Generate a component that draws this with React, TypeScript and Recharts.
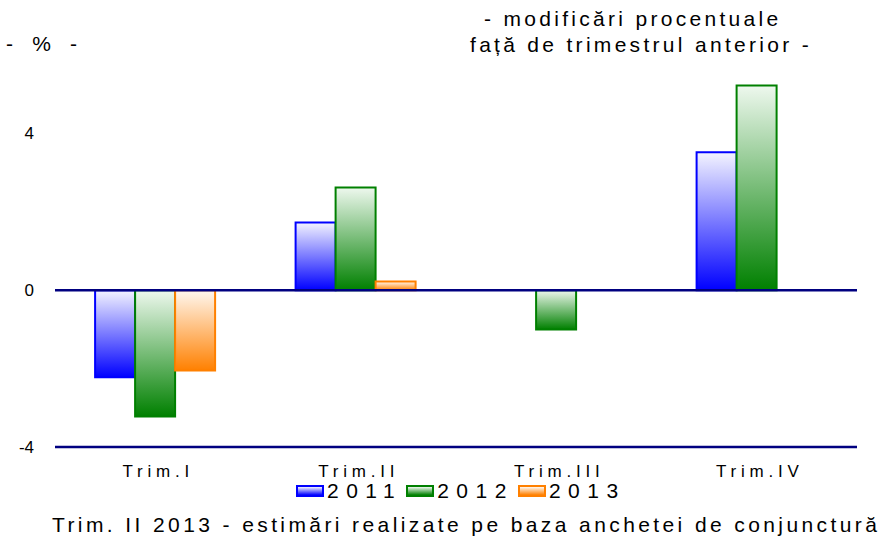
import React from "react";
import { BarChart, Bar, XAxis, YAxis, ReferenceLine } from "recharts";

const categories = ["Trim.I", "Trim.II", "Trim.III", "Trim.IV"];
const series2011 = [-2.22, 1.73, null, 3.52];
const series2012 = [-3.22, 2.62, -1.0, 5.22];
const series2013 = [-2.05, 0.22, null, null];
const yTicks = [-4, 0, 4];
const seriesNames = ["2011", "2012", "2013"];

const data = categories.map((c, i) => ({
  cat: c,
  "2011": series2011[i],
  "2012": series2012[i],
  "2013": series2013[i],
}));

const colors: Record<string, { dark: string; light: string }> = {
  "2011": { dark: "#0000FF", light: "#F4F4FF" },
  "2012": { dark: "#008000", light: "#EEF8EE" },
  "2013": { dark: "#FF8000", light: "#FFF8F0" },
};

const FONT = "'Liberation Sans', Arial, sans-serif";

const YTick = (props: any) => {
  const { y, payload } = props;
  return (
    <text x={34} y={y} dy={6} textAnchor="end" fontFamily={FONT} fontSize={17} fill="#000">
      {payload.value}
    </text>
  );
};

const XTick = (props: any) => {
  const { x, y, payload } = props;
  return (
    <text x={x + 3} y={y} dy={22} textAnchor="middle" fontFamily={FONT} fontSize={17} letterSpacing={4.8} fill="#000">
      {payload.value}
    </text>
  );
};

const LegendBox = () => (
  <div
    style={{
      position: "absolute",
      left: 296,
      top: 479,
      display: "flex",
      alignItems: "center",
      fontFamily: FONT,
      fontSize: 21,
      letterSpacing: 7.5,
      color: "#000",
    }}
  >
    {seriesNames.map((n) => (
      <div key={n} style={{ display: "flex", alignItems: "center", marginRight: 4 }}>
        <div
          style={{
            width: 24,
            height: 8,
            border: `2px solid ${colors[n].dark}`,
            background: `linear-gradient(to bottom, ${colors[n].light}, ${colors[n].dark})`,
            marginRight: 3,
          }}
        />
        <span>{n}</span>
      </div>
    ))}
  </div>
);

export default function App() {
  return (
    <div style={{ position: "absolute", left: 0, top: 0, width: 883, height: 536, background: "#fff", fontFamily: FONT }}>
      <div style={{ position: "absolute", left: 0, top: 0 }}>
        <BarChart
          width={883}
          height={536}
          data={data}
          margin={{ top: 55, right: 26, bottom: 0, left: 0 }}
          barCategoryGap="20%"
          barGap={0}
        >
          <defs>
            {seriesNames.map((n) => (
              <linearGradient key={n} id={`g${n}`} x1="0" y1="0" x2="0" y2="1">
                <stop offset="0%" stopColor={colors[n].light} />
                <stop offset="100%" stopColor={colors[n].dark} />
              </linearGradient>
            ))}
          </defs>
          <YAxis
            width={55}
            domain={[-4, 6]}
            ticks={yTicks}
            axisLine={false}
            tickLine={false}
            tick={<YTick />}
            allowDataOverflow
          />
          <XAxis
            dataKey="cat"
            axisLine={{ stroke: "#000080", strokeWidth: 2.5 }}
            tickLine={false}
            tick={<XTick />}
            height={89}
            interval={0}
          />
          {seriesNames.map((n) => (
            <Bar
              key={n}
              dataKey={n}
              fill={`url(#g${n})`}
              stroke={colors[n].dark}
              strokeWidth={2}
              isAnimationActive={false}
            />
          ))}
          <ReferenceLine y={0} stroke="#000080" strokeWidth={2.5} />
        </BarChart>
      </div>
      <div style={{ position: "absolute", left: 6, top: 32, fontSize: 21, letterSpacing: 2.5, whiteSpace: "pre" }}>-  %  -</div>
      <div style={{ position: "absolute", left: 484, top: 7, fontSize: 21, letterSpacing: 3.3, whiteSpace: "pre" }}>- modificări procentuale</div>
      <div style={{ position: "absolute", left: 470, top: 33, fontSize: 21, letterSpacing: 3.3, whiteSpace: "pre" }}>față de trimestrul anterior -</div>
      <LegendBox />
      <div style={{ position: "absolute", left: 52, top: 513, fontSize: 21, letterSpacing: 3.4, whiteSpace: "pre" }}>
        Trim. II 2013 - estimări realizate pe baza anchetei de conjunctură
      </div>
    </div>
  );
}
